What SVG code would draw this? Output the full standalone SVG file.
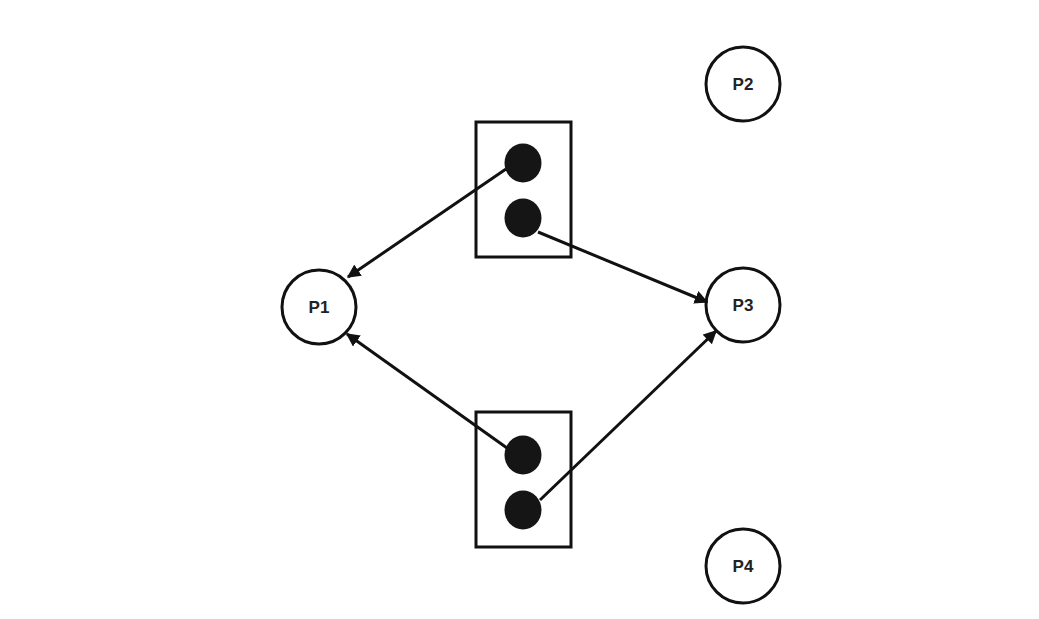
<svg xmlns="http://www.w3.org/2000/svg" width="1039" height="619" viewBox="0 0 1039 619">
<defs>
<style>
.proc{fill:#fff;stroke:#111;stroke-width:3}
.res{fill:#fff;stroke:#111;stroke-width:3}
.dot{fill:#151515}
.lbl{font-family:"Liberation Sans",Arial,sans-serif;font-size:17px;font-weight:bold;fill:#222;text-anchor:middle;dominant-baseline:central}
.edge{stroke:#111;stroke-width:3;fill:none;marker-end:url(#ah)}
</style>
<marker id="ah" viewBox="0 0 10 10" refX="9" refY="5" markerWidth="4.5" markerHeight="4.5" orient="auto" markerUnits="strokeWidth">
<path d="M0,0 L10,5 L0,10 z" fill="#111"/>
</marker>
</defs>
<rect width="1039" height="619" fill="#fff"/>
<g id="R1">
<rect class="res" x="476" y="122" width="95" height="135"/>
<ellipse class="dot" cx="523" cy="163" rx="18.5" ry="19.5"/>
<ellipse class="dot" cx="523" cy="218" rx="18.5" ry="19.5"/>
</g>
<g id="R2">
<rect class="res" x="476" y="412" width="95" height="135"/>
<ellipse class="dot" cx="523" cy="455" rx="18.5" ry="19.5"/>
<ellipse class="dot" cx="523" cy="510" rx="18.5" ry="19.5"/>
</g>
<g id="P1"><circle class="proc" cx="319" cy="307" r="37"/><text class="lbl" x="319" y="307">P1</text></g>
<g id="P2"><circle class="proc" cx="743" cy="84" r="37"/><text class="lbl" x="743" y="84">P2</text></g>
<g id="P3"><circle class="proc" cx="743" cy="305" r="37"/><text class="lbl" x="743" y="305">P3</text></g>
<g id="P4"><circle class="proc" cx="743" cy="566" r="37"/><text class="lbl" x="743" y="566">P4</text></g>
<g id="connectors">
<line class="edge" x1="506" y1="169" x2="348" y2="277"/>
<line class="edge" x1="538" y1="232" x2="707" y2="302"/>
<line class="edge" x1="507" y1="448" x2="347" y2="334"/>
<line class="edge" x1="540" y1="500" x2="716" y2="331"/>
</g>
</svg>
